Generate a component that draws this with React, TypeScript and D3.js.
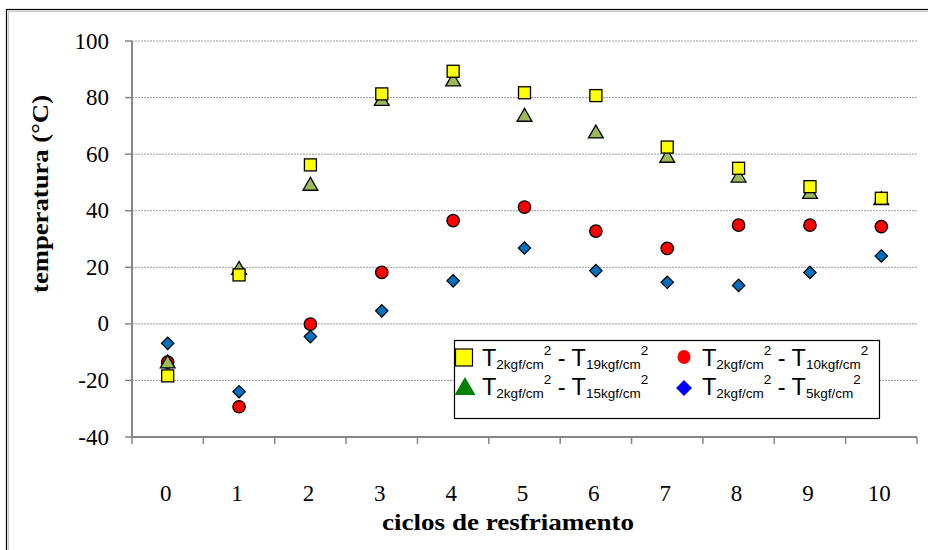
import React from 'react';
import * as d3 from 'd3';

// ciclos de resfriamento (x categories)
const cycles = ['0', '1', '2', '3', '4', '5', '6', '7', '8', '9', '10'];
// series values, °C
const t19 = [-18.4, 17.3, 56.2, 81.3, 89.3, 81.7, 80.7, 62.5, 55.0, 48.5, 44.4];
const t15 = [-13.7, 19.4, 49.1, 79.1, 86.0, 73.5, 67.6, 59.0, 52.0, 46.2, 44.0];
const t10 = [-13.5, -29.3, -0.1, 18.2, 36.5, 41.3, 32.8, 26.7, 34.9, 34.9, 34.4];
const t5 = [-6.9, -24.0, -4.5, 4.6, 15.2, 26.8, 18.8, 14.7, 13.6, 18.2, 24.0];
const yTicks = [100, 80, 60, 40, 20, 0, -20, -40];

const W = 928;
const H = 550;
const left = 132, right = 917, top = 41, bottom = 437;

const x = d3.scaleBand<string>().domain(cycles).range([left, right]).padding(0);
const y = d3.scaleLinear().domain([-40, 100]).range([bottom, top]);
const cx = (i: number) => (x(cycles[i]) as number) + x.bandwidth() / 2;

const serif = '"Liberation Serif", "Times New Roman", serif';
const sans = '"Liberation Sans", Arial, sans-serif';

function LegendLabel({ x0, base, a, b }: { x0: number; base: number; a: string; b: string }) {
  const sub = base + 2.5;
  const sup = base - 11.5;
  return (
    <text x={x0} y={base} fontFamily={sans} fill="#000">
      <tspan fontSize={23.5}>T</tspan>
      <tspan fontSize={13.5} y={sub}>{a}</tspan>
      <tspan fontSize={13.5} y={sup}>2</tspan>
      <tspan fontSize={23.5} y={base}>{' - T'}</tspan>
      <tspan fontSize={13.5} y={sub}>{b}</tspan>
      <tspan fontSize={13.5} y={sup}>2</tspan>
    </text>
  );
}

export default function App() {
  const tri = d3.symbol(d3.symbolTriangle, 95)();
  const triLeg = d3.symbol(d3.symbolTriangle, 190)();
  const boundaries = d3.range(cycles.length + 1).map(i => left + i * x.bandwidth());

  return (
    <svg width={W} height={H} style={{ position: 'absolute', left: 0, top: 0, background: '#fff' }}>
      {/* outer frame */}
      <rect x={6.5} y={9.5} width={W + 20} height={H + 20} fill="none" stroke="#000" strokeWidth={1.2} />
      <rect x={8.5} y={11.5} width={W + 20} height={H + 20} fill="none" stroke="#c8c8c8" strokeWidth={1.2} />

      {/* grid */}
      {yTicks.filter(t => t > -40).map(t => (
        <line key={t} x1={left} x2={right} y1={y(t)} y2={y(t)} stroke="#999" strokeWidth={1} strokeDasharray="2,1" />
      ))}

      {/* axes */}
      <line x1={left} x2={left} y1={top} y2={bottom} stroke="#868686" strokeWidth={2} />
      <line x1={left - 1} x2={right} y1={bottom} y2={bottom} stroke="#868686" strokeWidth={2} />
      {yTicks.map(t => (
        <line key={t} x1={left - 7} x2={left} y1={y(t)} y2={y(t)} stroke="#868686" strokeWidth={1.5} />
      ))}
      {boundaries.map((b, i) => (
        <line key={i} x1={b} x2={b} y1={bottom} y2={bottom + 7} stroke="#868686" strokeWidth={1.5} />
      ))}

      {/* tick labels */}
      {yTicks.map(t => (
        <text key={t} x={109} y={y(t) + 7.5} textAnchor="end" fontFamily={serif} fontSize={23} fill="#000">{t}</text>
      ))}
      {cycles.map((c, i) => (
        <text key={c} x={cx(i) - 2} y={501} textAnchor="middle" fontFamily={serif} fontSize={23} fill="#000">{c}</text>
      ))}

      {/* titles */}
      <text x={508} y={530} textAnchor="middle" fontFamily={serif} fontSize={24} fontWeight="bold"
        textLength={252} lengthAdjust="spacingAndGlyphs">ciclos de resfriamento</text>
      <text transform="translate(48,194) rotate(-90)" textAnchor="middle" fontFamily={serif} fontSize={23}
        fontWeight="bold" textLength={198} lengthAdjust="spacingAndGlyphs">temperatura (°C)</text>

      {/* data */}
      {t10.map((v, i) => (
        <circle key={'c' + i} cx={cx(i)} cy={y(v)} r={6.2} fill="#ff0000" stroke="#000" strokeWidth={1.3} />
      ))}
      {t15.map((v, i) => (
        <path key={'t' + i} d={tri as string} transform={`translate(${cx(i)},${y(v) + 1})`} fill="#9bbb59" stroke="#000" strokeWidth={1.3} />
      ))}
      {t19.map((v, i) => (
        <rect key={'s' + i} x={cx(i) - 6} y={y(v) - 6} width={12} height={12} fill="#ffff00" stroke="#000" strokeWidth={1.3} />
      ))}
      {t5.map((v, i) => (
        <rect key={'d' + i} x={-4.4} y={-4.4} width={8.8} height={8.8} fill="#0070c0" stroke="#000" strokeWidth={1.2}
          transform={`translate(${cx(i)},${y(v)}) rotate(45)`} />
      ))}

      {/* legend */}
      <rect x={454.5} y={340.5} width={425} height={78} fill="#fff" stroke="#000" strokeWidth={1.2} />
      <rect x={455.5} y={349} width={17} height={17} fill="#ffff00" stroke="#000" strokeWidth={1.2} />
      <LegendLabel x0={482} base={366} a="2kgf/cm" b="19kgf/cm" />
      <ellipse cx={684} cy={357} rx={6.5} ry={7} fill="#ff0000" />
      <LegendLabel x0={702} base={366} a="2kgf/cm" b="10kgf/cm" />
      <path d={triLeg as string} transform="translate(465,389)" fill="#008000" />
      <LegendLabel x0={482} base={395} a="2kgf/cm" b="15kgf/cm" />
      <rect x={-5.6} y={-5.6} width={11.2} height={11.2} fill="#0000ff" transform="translate(684,388) rotate(45)" />
      <LegendLabel x0={702} base={395} a="2kgf/cm" b="5kgf/cm" />
    </svg>
  );
}
